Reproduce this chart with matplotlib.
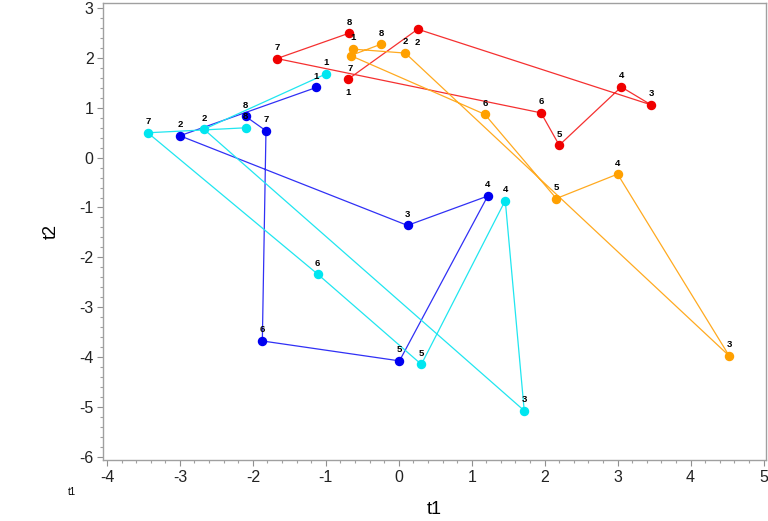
import matplotlib
matplotlib.use("Agg")
import matplotlib.pyplot as plt
from matplotlib.ticker import MultipleLocator

plt.rcParams['font.family'] = ['Liberation Sans', 'DejaVu Sans']
plt.rcParams['axes.unicode_minus'] = False

# point labels (time order) and coordinates for each group
steps = [1, 2, 3, 4, 5, 6, 7, 8]

blue_t1 = [-1.13, -3.00, 0.12, 1.22, 0.01, -1.87, -1.82, -2.10]
blue_t2 = [1.41, 0.44, -1.36, -0.77, -4.08, -3.68, 0.54, 0.83]

cyan_t1 = [-1.00, -2.67, 1.72, 1.46, 0.31, -1.11, -3.44, -2.10]
cyan_t2 = [1.68, 0.57, -5.08, -0.86, -4.15, -2.34, 0.50, 0.60]

red_t1 = [-0.69, 0.26, 3.46, 3.05, 2.20, 1.95, -1.67, -0.68]
red_t2 = [1.58, 2.58, 1.06, 1.42, 0.25, 0.90, 1.99, 2.50]

orange_t1 = [-0.63, 0.09, 4.53, 3.00, 2.16, 1.18, -0.66, -0.24]
orange_t2 = [2.18, 2.10, -3.98, -0.33, -0.82, 0.87, 2.05, 2.28]

groups = [
    (blue_t1, blue_t2, '#0000F0', '#3030F5', set()),
    (cyan_t1, cyan_t2, '#00E6F0', '#20E6F0', set()),
    (red_t1, red_t2, '#F00000', '#F53030', {1, 2}),
    (orange_t1, orange_t2, '#FFA000', '#FFAA20', {7}),
]

fig = plt.figure(figsize=(7.68, 5.21), dpi=100)
ax = fig.add_axes([0.1345, 0.1171, 0.8625, 0.8766])

for xs, ys, mcol, lcol, below in groups:
    ax.plot(xs, ys, color=lcol, lw=0.9, zorder=2)
    ax.plot(xs, ys, 'o', color=mcol, ms=5.8, zorder=3, linestyle='none')
    for s, x, y in zip(steps, xs, ys):
        dy = -9.5 if s in below else 8
        ax.annotate(str(s), (x, y), xytext=(0, dy), textcoords='offset points',
                    ha='center', va='center', fontsize=6.8, fontweight='bold',
                    color='black', zorder=4)

ax.set_xlim(-4.05, 5.03)
ax.set_ylim(-6.07, 3.10)
ax.xaxis.set_major_locator(MultipleLocator(1))
ax.xaxis.set_minor_locator(MultipleLocator(0.2))
ax.yaxis.set_major_locator(MultipleLocator(1))
ax.yaxis.set_minor_locator(MultipleLocator(0.2))

for sp in ax.spines.values():
    sp.set_color('#A0A0A0')
    sp.set_linewidth(1.0)

ax.tick_params(which='major', direction='out', length=4, width=0.8,
               color='#909090', labelsize=11.5, labelcolor='#222222', pad=3)
ax.tick_params(which='minor', direction='out', length=2.5, width=0.8,
               color='#A0A0A0')

ax.set_xlabel("t1", fontsize=13, labelpad=12)
ax.set_ylabel("t2", fontsize=13, labelpad=14)
fig.text(72 / 768, 1 - 492 / 521, "t1", fontsize=7, ha='center', va='center')

fig.savefig("out.png", dpi=100)
